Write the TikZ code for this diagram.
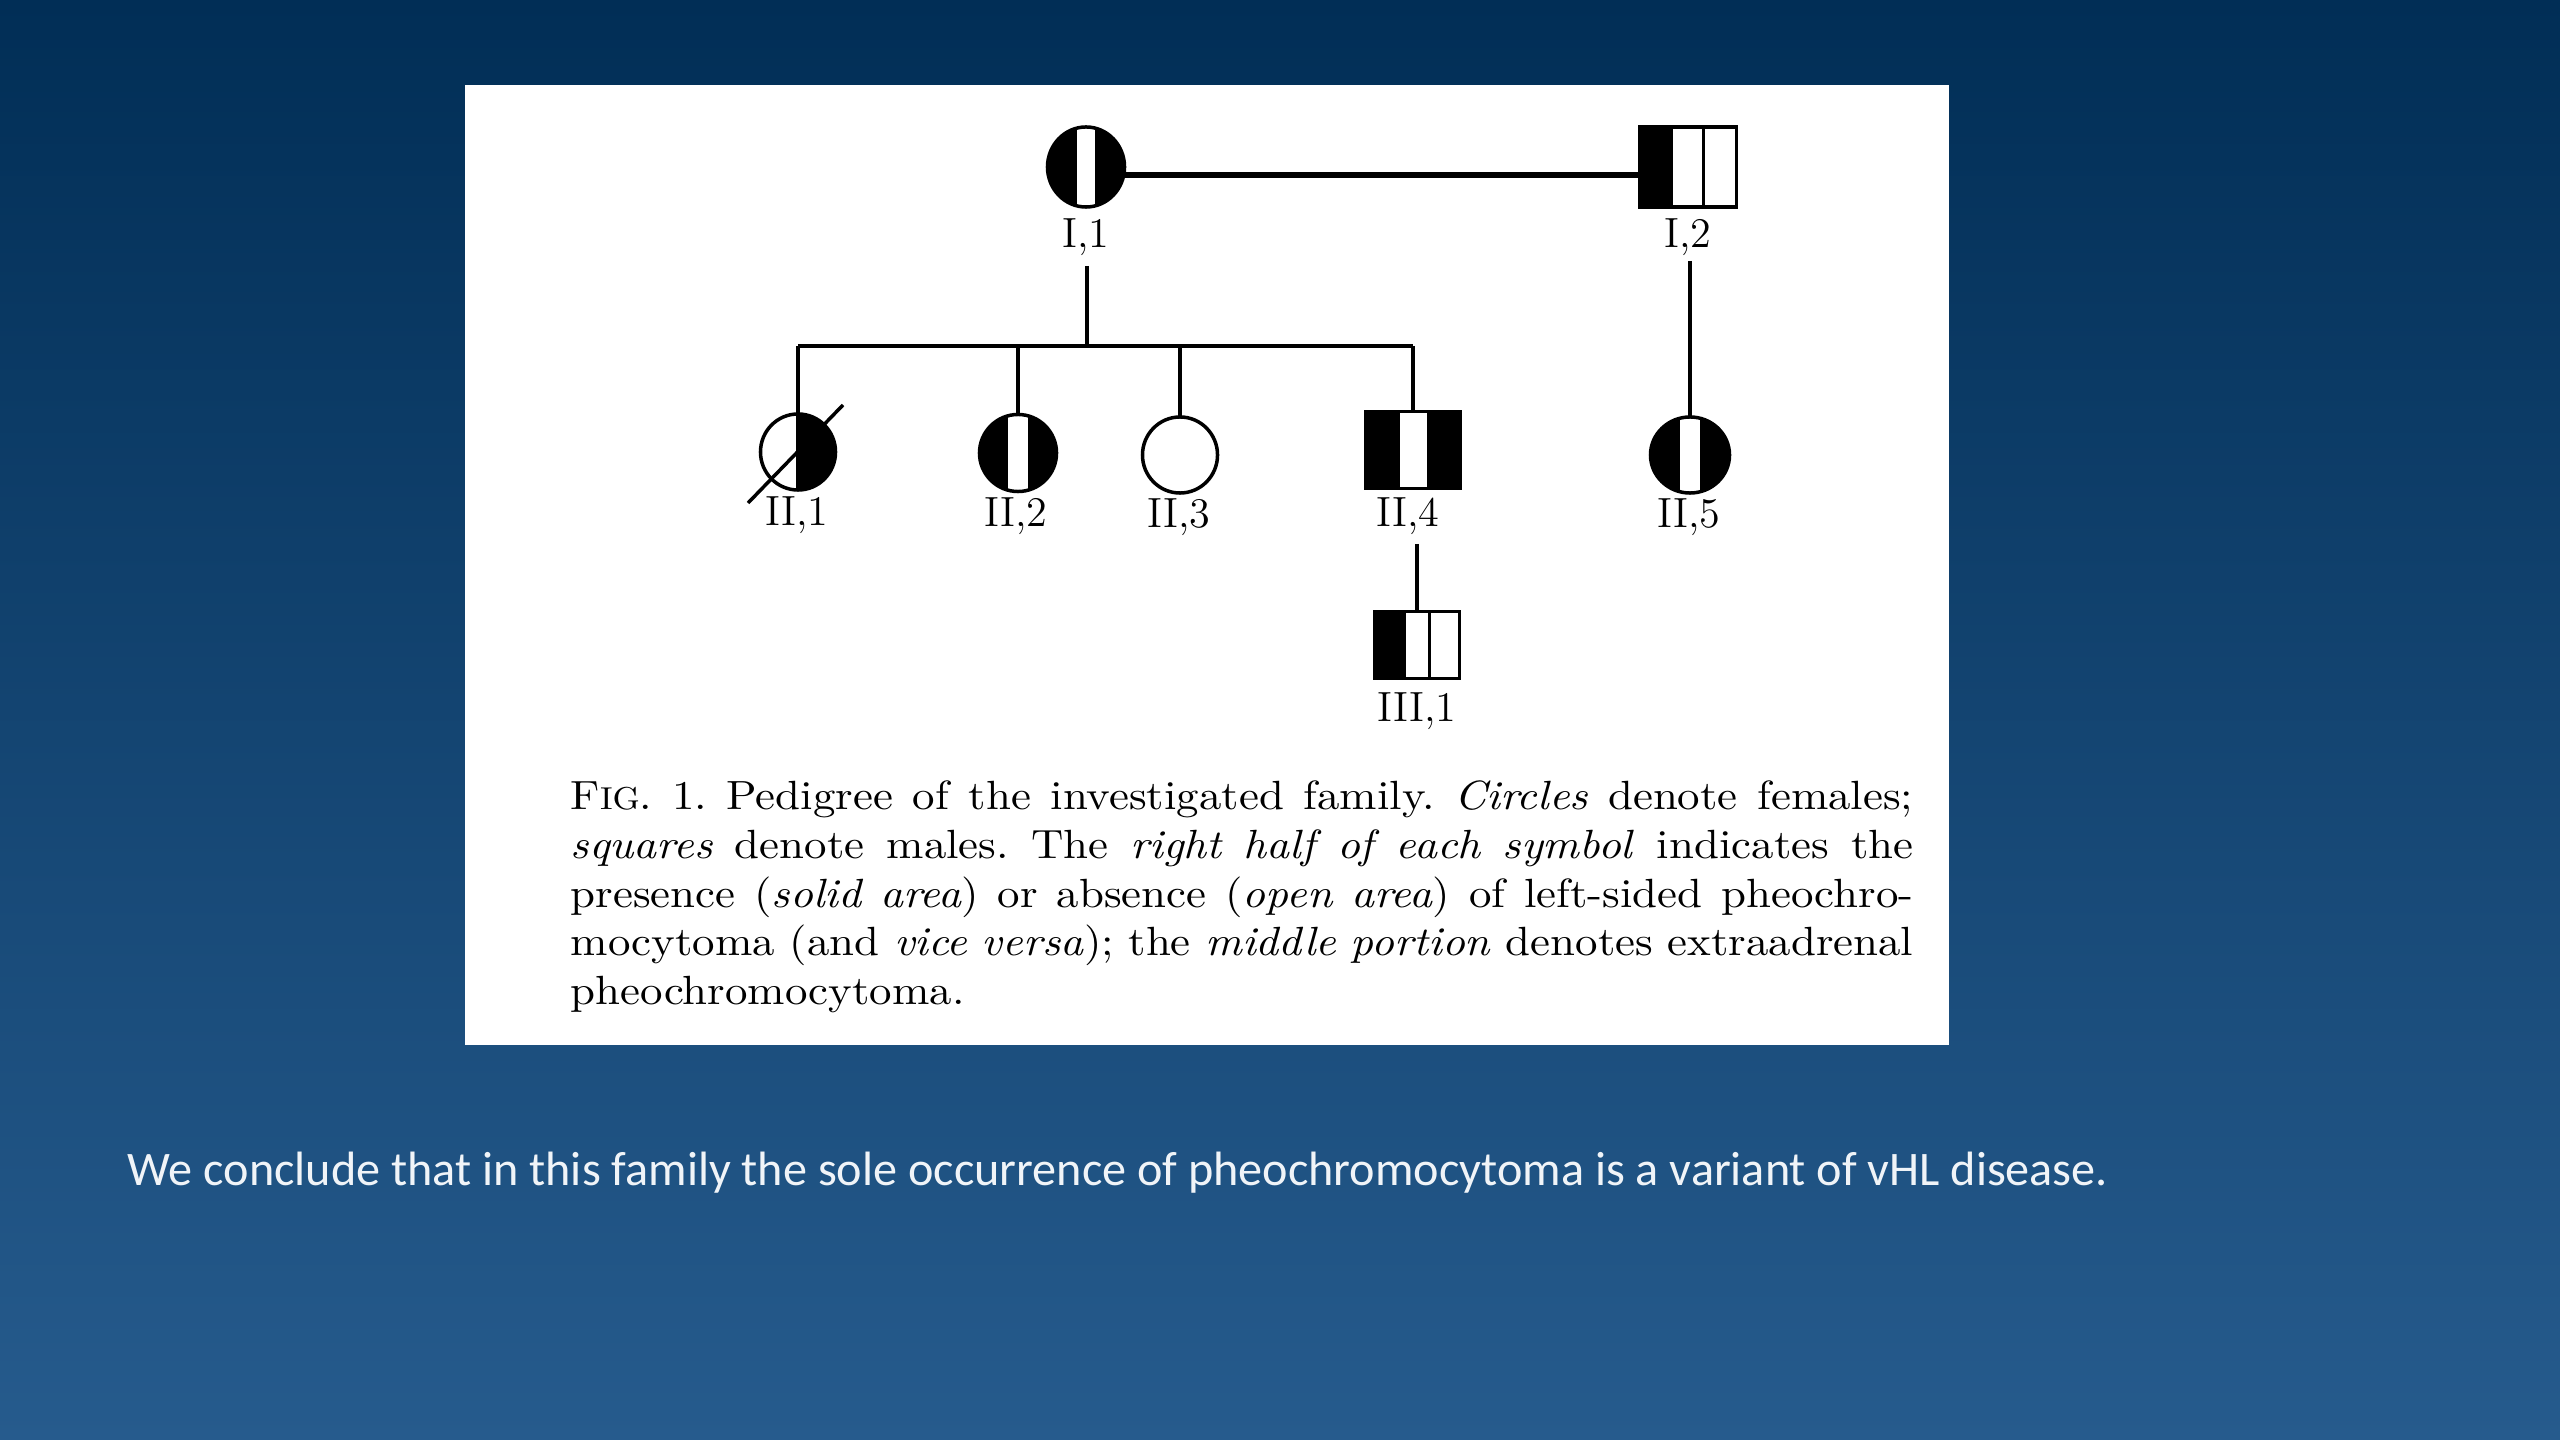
\documentclass[tikz,border=0pt]{standalone}
\usepackage{fontspec}
\newfontfamily\carlito{Carlito}
\newfontfamily\capfont{lmroman10-regular}[Extension=.otf, ItalicFont=lmroman10-italic, FakeStretch=1.10]
\usetikzlibrary{shapes.geometric,calc}
\definecolor{bgtop}{RGB}{1,46,86}
\definecolor{bgmid}{RGB}{30,79,129}
\definecolor{bgbot}{RGB}{38,91,141}
\definecolor{slidetext}{RGB}{240,244,248}
\newcommand{\capline}[1]{\noindent\hbox to 13.42cm{\spaceskip=0.33em plus 2em minus 0.05em\xspaceskip=\spaceskip #1}}
\tikzset{
  sym/.style={draw=black, line width=0.035cm, inner sep=0pt, outer sep=0pt, fill=white},
  fem/.style={sym, ellipse},
  mal/.style={sym, rectangle},
  midwhite/.style 2 args={path picture={
    \fill[black] (path picture bounding box.south west) rectangle (path picture bounding box.north east);
    \fill[white] ($(path picture bounding box.south west)!#1!(path picture bounding box.south east)$) rectangle ($(path picture bounding box.north west)!#2!(path picture bounding box.north east)$);}},
  righthalf/.style={path picture={
    \fill[black] ($(path picture bounding box.south west)!0.47!(path picture bounding box.south east)$) rectangle (path picture bounding box.north east);}},
  leftthird/.style 2 args={path picture={
    \fill[black] (path picture bounding box.south west) rectangle ($(path picture bounding box.north west)!#1!(path picture bounding box.north east)$);
    \draw[line width=0.03cm] ($(path picture bounding box.south west)!#2!(path picture bounding box.south east)$) -- ($(path picture bounding box.north west)!#2!(path picture bounding box.north east)$);}},
  lab/.style={anchor=base, inner sep=0pt, font=\fontsize{12pt}{12pt}\selectfont},
  link/.style={draw=black, line width=0.04cm},
  marriage/.style={draw=black, line width=0.055cm},
  caption/.style={anchor=base west, inner sep=0pt, text width=13.42cm, align=left,
    font=\capfont\fontsize{11.6pt}{13.8pt}\selectfont},
  concl/.style={anchor=base west, inner sep=0pt, text=slidetext,
    font=\carlito\fontsize{13.7pt}{13.7pt}\selectfont}
}
\begin{document}
\begin{tikzpicture}[x=0.01cm,y=-0.01cm]
\useasboundingbox (0,0) rectangle (2560,1440);
\shade[top color=bgtop, middle color=bgmid, bottom color=bgbot] (0,0) rectangle (2560,1440);
\fill[white] (465,85) rectangle (1949,1045);

% generation I
\node[fem, midwhite={0.38}{0.62}, minimum width=0.77cm, minimum height=0.80cm] (I1) at (1086,167) {};
\node[mal, leftthird={0.35}{0.66}, minimum width=0.97cm, minimum height=0.80cm] (I2) at (1688,167) {};
\node[lab] (I1lab) at (1086,248) {I,1};
\node[lab] (I2lab) at (1688,248) {I,2};

% generation II
\node[fem, righthalf, minimum width=0.75cm, minimum height=0.76cm] (II1) at (798,452) {};
\node[fem, midwhite={0.37}{0.63}, minimum width=0.77cm, minimum height=0.77cm] (II2) at (1018,453) {};
\node[fem, minimum width=0.75cm, minimum height=0.76cm] (II3) at (1180,455) {};
\node[mal, midwhite={0.36}{0.65}, minimum width=0.94cm, minimum height=0.77cm] (II4) at (1413,450) {};
\node[fem, midwhite={0.375}{0.625}, minimum width=0.79cm, minimum height=0.76cm] (II5) at (1690,455) {};
\node[lab] (II1lab) at (797,526) {II,1};
\node[lab] (II2lab) at (1016,527) {II,2};
\node[lab] (II3lab) at (1179,528) {II,3};
\node[lab] (II4lab) at (1408,527) {II,4};
\node[lab] (II5lab) at (1689,528) {II,5};

% generation III
\node[mal, leftthird={0.365}{0.65}, minimum width=0.85cm, minimum height=0.67cm] (III1) at (1417,645) {};
\node[lab] (III1lab) at (1417,722) {III,1};

% connectors
\draw[marriage] ([yshift=-0.08cm]I1.east) -- ([yshift=-0.08cm]I2.west);
\coordinate (I1d) at (1087,266);
\coordinate (sibY) at (1087,346);
\draw[link] (I1d) -- (sibY);
\draw[link] (II1.north |- sibY) -- (II4.north |- sibY);
\draw[link] (II1.north |- sibY) -- (II1.north);
\draw[link] (II2.north |- sibY) -- (II2.north);
\draw[link] (II3.north |- sibY) -- (II3.north);
\draw[link] (II4.north |- sibY) -- (II4.north);
\coordinate (I2d) at (1690,261);
\draw[link] (I2d) -- (II5.north);
\coordinate (II4d) at (1417,544);
\draw[link] (II4d) -- (III1.north);
% deceased slash
\draw[line width=0.035cm] ($(II1.center)+(-50,51)$) -- ($(II1.center)+(45,-47)$);

% caption
\node[caption] (cap) at (570,810) {\frenchspacing
\capline{F{\fontsize{9pt}{9pt}\selectfont IG}. 1. Pedigree of the investigated family. \textit{Circles} denote females;}\\
\capline{\textit{squares} denote males. The \textit{right half of each symbol} indicates the}\\
\capline{presence (\textit{solid area}) or absence (\textit{open area}) of left-sided pheochro-}\\
\capline{mocytoma (and \textit{vice versa}); the \textit{middle portion} denotes extraadrenal}\\
pheochromocytoma.};

% slide text
\node[concl] (conc) at (127,1185) {We conclude that in this family the sole occurrence of pheochromocytoma is a variant of vHL disease.};
\end{tikzpicture}
\end{document}
